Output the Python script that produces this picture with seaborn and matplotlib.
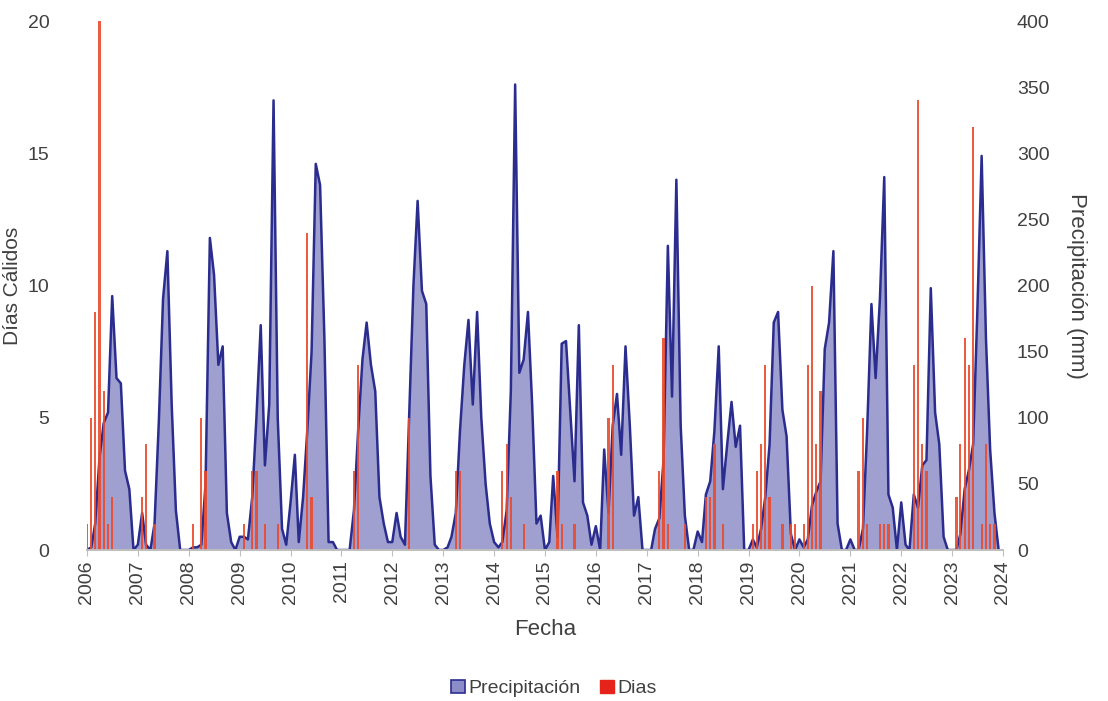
import numpy as np
import pandas as pd
import matplotlib
matplotlib.use("Agg")
import matplotlib.pyplot as plt
import matplotlib.dates as mdates
from matplotlib.patches import Patch
import seaborn as sns

# monthly precipitation (mm), Jan 2006 .. Dec 2023
precip_2006 = [0, 2, 20, 70, 96, 104, 192, 130, 126, 60, 46, 0]
precip_2007 = [4, 28, 4, 0, 20, 98, 190, 226, 110, 30, 0, 0]
precip_2008 = [0, 2, 2, 4, 50, 236, 208, 140, 154, 28, 6, 0]
precip_2009 = [10, 10, 8, 40, 100, 170, 64, 110, 340, 100, 16, 4]
precip_2010 = [36, 72, 6, 40, 90, 150, 292, 276, 160, 6, 6, 0]
precip_2011 = [0, 0, 0, 30, 90, 144, 172, 140, 120, 40, 20, 6]
precip_2012 = [6, 28, 10, 4, 100, 200, 264, 196, 186, 56, 4, 0]
precip_2013 = [0, 2, 10, 28, 90, 140, 174, 110, 180, 100, 50, 20]
precip_2014 = [6, 2, 6, 30, 120, 352, 134, 144, 180, 110, 20, 26]
precip_2015 = [0, 6, 56, 10, 156, 158, 106, 52, 170, 36, 26, 4]
precip_2016 = [18, 0, 76, 28, 94, 118, 72, 154, 94, 26, 40, 0]
precip_2017 = [0, 0, 16, 24, 68, 230, 116, 280, 94, 26, 0, 0]
precip_2018 = [14, 6, 42, 52, 90, 154, 46, 80, 112, 78, 94, 0]
precip_2019 = [0, 8, 2, 16, 40, 80, 172, 180, 106, 86, 12, 0]
precip_2020 = [8, 2, 8, 34, 44, 52, 152, 172, 226, 20, 0, 0]
precip_2021 = [8, 0, 0, 16, 90, 186, 130, 190, 282, 42, 32, 0]
precip_2022 = [36, 4, 0, 42, 32, 64, 68, 198, 104, 80, 10, 0]
precip_2023 = [0, 0, 12, 46, 60, 80, 180, 298, 160, 76, 28, 0]

# warm days per month (same months)
dias_2006 = [1, 5, 9, 20, 6, 1, 2, 0, 0, 0, 0, 0]
dias_2007 = [0, 2, 4, 0, 1, 0, 0, 0, 0, 0, 0, 0]
dias_2008 = [0, 1, 0, 5, 3, 0, 0, 0, 0, 0, 0, 0]
dias_2009 = [0, 1, 0, 3, 3, 0, 1, 0, 0, 1, 0, 0]
dias_2010 = [0, 0, 0, 0, 12, 2, 0, 0, 0, 0, 0, 0]
dias_2011 = [0, 0, 0, 3, 7, 0, 0, 0, 0, 0, 0, 0]
dias_2012 = [0, 0, 0, 0, 5, 0, 0, 0, 0, 0, 0, 0]
dias_2013 = [0, 0, 0, 3, 3, 0, 0, 0, 0, 0, 0, 0]
dias_2014 = [0, 0, 3, 4, 2, 0, 0, 1, 0, 0, 0, 0]
dias_2015 = [0, 0, 0, 3, 1, 0, 0, 1, 0, 0, 0, 0]
dias_2016 = [0, 0, 0, 5, 7, 0, 0, 0, 0, 0, 0, 0]
dias_2017 = [0, 0, 0, 3, 8, 1, 0, 0, 0, 1, 0, 0]
dias_2018 = [0, 0, 2, 2, 4, 0, 1, 0, 0, 0, 0, 0]
dias_2019 = [0, 1, 3, 4, 7, 2, 0, 0, 1, 0, 1, 1]
dias_2020 = [0, 1, 7, 10, 4, 6, 0, 0, 0, 0, 0, 0]
dias_2021 = [0, 0, 3, 5, 1, 0, 0, 1, 1, 1, 0, 0]
dias_2022 = [0, 0, 0, 7, 17, 4, 3, 0, 0, 0, 0, 0]
dias_2023 = [0, 2, 4, 8, 7, 16, 0, 1, 4, 1, 1, 0]

precip = sum([precip_2006, precip_2007, precip_2008, precip_2009, precip_2010,
              precip_2011, precip_2012, precip_2013, precip_2014, precip_2015,
              precip_2016, precip_2017, precip_2018, precip_2019, precip_2020,
              precip_2021, precip_2022, precip_2023], [])
dias = sum([dias_2006, dias_2007, dias_2008, dias_2009, dias_2010,
            dias_2011, dias_2012, dias_2013, dias_2014, dias_2015,
            dias_2016, dias_2017, dias_2018, dias_2019, dias_2020,
            dias_2021, dias_2022, dias_2023], [])
fechas = pd.date_range("2006-01-01", periods=len(precip), freq="MS")

df = pd.DataFrame({"Fecha": fechas, "Precipitación": precip, "Dias": dias})

sns.set_theme(style="white")
plt.rcParams["font.family"] = ["Liberation Sans", "DejaVu Sans"]

navy = "#2b2d8e"
fill = "#7676bd"
red = "#ea4a2c"
grey_txt = "#404040"

fig = plt.figure(figsize=(11.08, 7.01), dpi=100)
ax = fig.add_axes([0.0785, 0.2154, 0.8267, 0.7546])
ax2 = ax.twinx()

# precipitation area on the right axis, drawn below the bars
ax2.fill_between(df["Fecha"], df["Precipitación"], color=fill, alpha=0.7, lw=0)
sns.lineplot(data=df, x="Fecha", y="Precipitación", ax=ax2, color=navy, lw=1.8)

ax.bar(df["Fecha"], df["Dias"], width=16, color=red, lw=0, alpha=0.9)
ax.set_zorder(ax2.get_zorder() + 1)
ax.patch.set_visible(False)

ax.set_ylim(0, 20)
ax2.set_ylim(0, 400)
ax.set_yticks([0, 5, 10, 15, 20])
ax2.set_yticks(range(0, 401, 50))
ax.set_xlim(pd.Timestamp("2006-01-01"), pd.Timestamp("2024-01-01"))

ax2.set_yticks([100, 200, 300, 400], minor=True)
ax2.grid(axis="y", which="minor", color="#cbc3c3", lw=1.1)
ax2.grid(axis="y", which="major", visible=False)
ax2.set_axisbelow(True)
ax.grid(False)

ax.xaxis.set_major_locator(mdates.YearLocator())
ax.xaxis.set_major_formatter(mdates.DateFormatter("%Y"))
ax.tick_params(axis="x", rotation=90, labelsize=14, colors=grey_txt,
               length=4, width=0.8, color="#bfbfbf", direction="out", bottom=True)
ax.tick_params(axis="y", labelsize=14, colors=grey_txt, length=0, pad=27)
ax2.tick_params(axis="y", which="both", labelsize=14, colors=grey_txt, length=0, pad=10)

for a in (ax, ax2):
    for s in ("top", "left", "right"):
        a.spines[s].set_visible(False)
    a.spines["bottom"].set_color("#bfbfbf")

ax.set_xlabel("Fecha", fontsize=16, color=grey_txt)
ax.xaxis.set_label_coords(0.5, -0.13)
ax.set_ylabel("Días Cálidos", fontsize=15, color=grey_txt, va="center")
ax.yaxis.set_label_coords(-0.081, 0.5)
ax2.set_ylabel("Precipitación (mm)", fontsize=16, color=grey_txt,
               rotation=270, va="center")
ax2.yaxis.set_label_coords(1.08, 0.5)

handles = [Patch(facecolor="#8c8cc8", edgecolor=navy, lw=1.2, label="Precipitación"),
           Patch(facecolor="#e5231b", edgecolor="#e5231b", label="Dias")]
fig.legend(handles=handles, loc="center", bbox_to_anchor=(0.5, 0.018), ncol=2,
           frameon=False, fontsize=14, handlelength=0.7, handleheight=0.7,
           handletextpad=0.2, columnspacing=1.0, labelcolor=grey_txt)

fig.savefig("out.png", dpi=100)
